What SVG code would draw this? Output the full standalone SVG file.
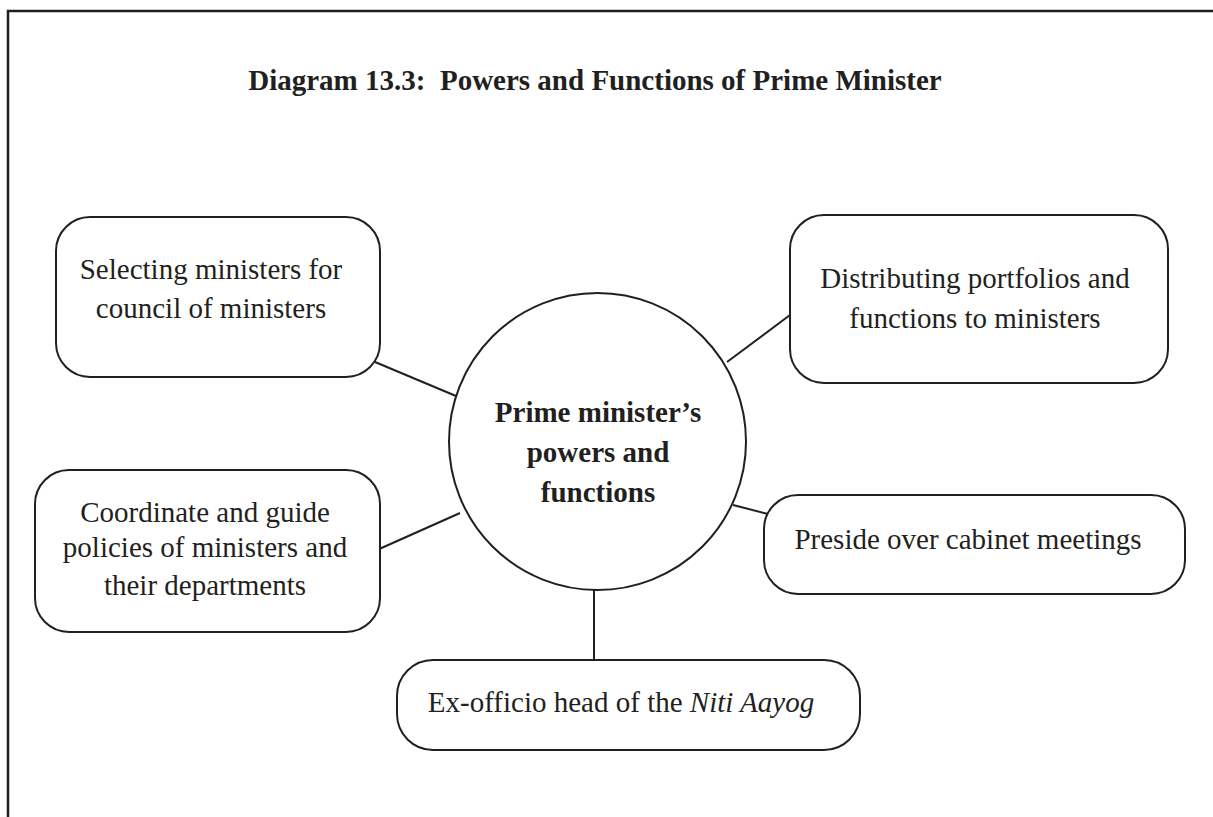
<svg xmlns="http://www.w3.org/2000/svg" width="1213" height="817" viewBox="0 0 1213 817">
<style>
.frame{fill:none;stroke:#231f20;stroke-width:2.5}
.box{fill:#fff;stroke:#231f20;stroke-width:2}
.conn line{stroke:#231f20;stroke-width:2}
text{font-family:"Liberation Serif","Times New Roman",serif;font-size:29px;fill:#231f20;text-anchor:middle}
.b{font-weight:bold}
</style>
<rect width="1213" height="817" fill="#fff"/>
<path class="frame" d="M8,817 V11 H1213"/>
<text id="title" class="b" x="595" y="90" xml:space="preserve" style="white-space:pre">Diagram 13.3:  Powers and Functions of Prime Minister</text>
<g id="connectors" class="conn">
<line x1="375" y1="362" x2="456" y2="396"/>
<line x1="790" y1="315" x2="727" y2="362"/>
<line x1="377" y1="550" x2="460" y2="513"/>
<line x1="733" y1="505" x2="768" y2="514"/>
<line x1="594" y1="590" x2="594" y2="660"/>
</g>
<g id="center">
<circle class="box" cx="597.5" cy="441.5" r="148.5"/>
<text class="b" x="598" y="422">Prime minister’s</text>
<text class="b" x="598" y="462">powers and</text>
<text class="b" x="598" y="502">functions</text>
</g>
<g id="selecting">
<rect class="box" x="56" y="217" width="324" height="160" rx="34"/>
<text x="211" y="279">Selecting ministers for</text>
<text x="211" y="318">council of ministers</text>
</g>
<g id="distributing">
<rect class="box" x="790" y="215" width="378" height="168" rx="34"/>
<text x="975" y="288">Distributing portfolios and</text>
<text x="975" y="328">functions to ministers</text>
</g>
<g id="coordinate">
<rect class="box" x="35" y="470" width="345" height="162" rx="34"/>
<text x="205" y="522">Coordinate and guide</text>
<text x="205" y="557">policies of ministers and</text>
<text x="205" y="595">their departments</text>
</g>
<g id="preside">
<rect class="box" x="764" y="495" width="421" height="99" rx="34"/>
<text x="968" y="549">Preside over cabinet meetings</text>
</g>
<g id="niti">
<rect class="box" x="397" y="660" width="463" height="90" rx="36"/>
<text x="621" y="712">Ex-officio head of the <tspan font-style="italic">Niti Aayog</tspan></text>
</g>
</svg>
